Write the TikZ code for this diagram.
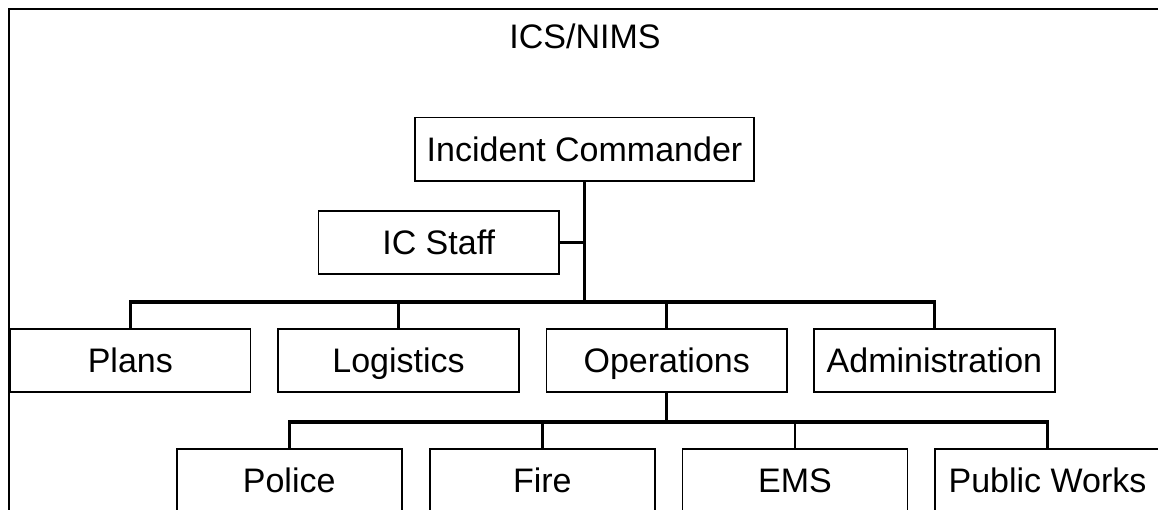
\documentclass[tikz,border=0pt]{standalone}
\usepackage{fontspec}
\setmainfont{Liberation Sans}
\usetikzlibrary{positioning, calc}

\begin{document}
\begin{tikzpicture}[
    x=1pt, y=1pt,
    font=\fontsize{34}{40}\selectfont,
    box/.style={draw, line width=1.6pt, minimum width=240.6pt, minimum height=63.5pt, text height=24.4pt, text depth=0pt, inner sep=0pt, align=center, fill=white},
    unit/.style={box, minimum width=225pt},
    link/.style={line width=2.8pt},
    bus/.style={line width=3.2pt, line join=miter}
]
    \useasboundingbox (0,0) rectangle (1158,-510);
    \clip (0,0) rectangle (1158,-510);

    % Frame and title
    \draw[line width=1.8pt] (8.7,-8.7) rectangle (1200,-560);
    \node[anchor=base] (title) at (585,-49) {ICS/NIMS};

    % Command
    \node[box, minimum width=339pt] (ic) at (584.5,-149.4) {Incident Commander};
    \node[box, below=28pt of ic, xshift=-145.8pt] (staff) {IC Staff};

    % Sections
    \node[box, below=146pt of ic, xshift=82.2pt] (ops) {Operations};
    \node[box, left=26pt of ops] (logi) {Logistics};
    \node[box, left=26pt of logi] (plans) {Plans};
    \node[box, right=25.5pt of ops] (admin) {Administration};

    % Units under Operations
    \node[unit, below=55pt of ops, xshift=-377.5pt] (police) {Police};
    \node[unit, right=26.5pt of police] (fire) {Fire};
    \node[unit, right=26pt of fire] (ems) {EMS};
    \node[unit, right=26pt of ems] (works) {Public Works};

    % Connectors
    \coordinate (sec_bus) at ($(ops.north)+(0,26pt)$);
    \coordinate (unit_bus) at ($(ops.south)+(0,-29pt)$);
    \draw[link] (ic.south) -- (ic.south |- sec_bus);
    \draw[bus] (staff.east) -- (staff.east -| ic.south);
    \draw[bus] (plans.north) |- (admin.north |- sec_bus) -- (admin.north);
    \draw[link] (logi.north) -- (logi.north |- sec_bus);
    \draw[link] (ops.north) -- (ops.north |- sec_bus);
    \draw[link] (ops.south) -- (unit_bus);
    \draw[bus] (police.north) |- (works.north |- unit_bus) -- (works.north);
    \foreach \n in {fire, ems}
        \draw[link] (\n.north) -- (\n.north |- unit_bus);

\end{tikzpicture}
\end{document}
